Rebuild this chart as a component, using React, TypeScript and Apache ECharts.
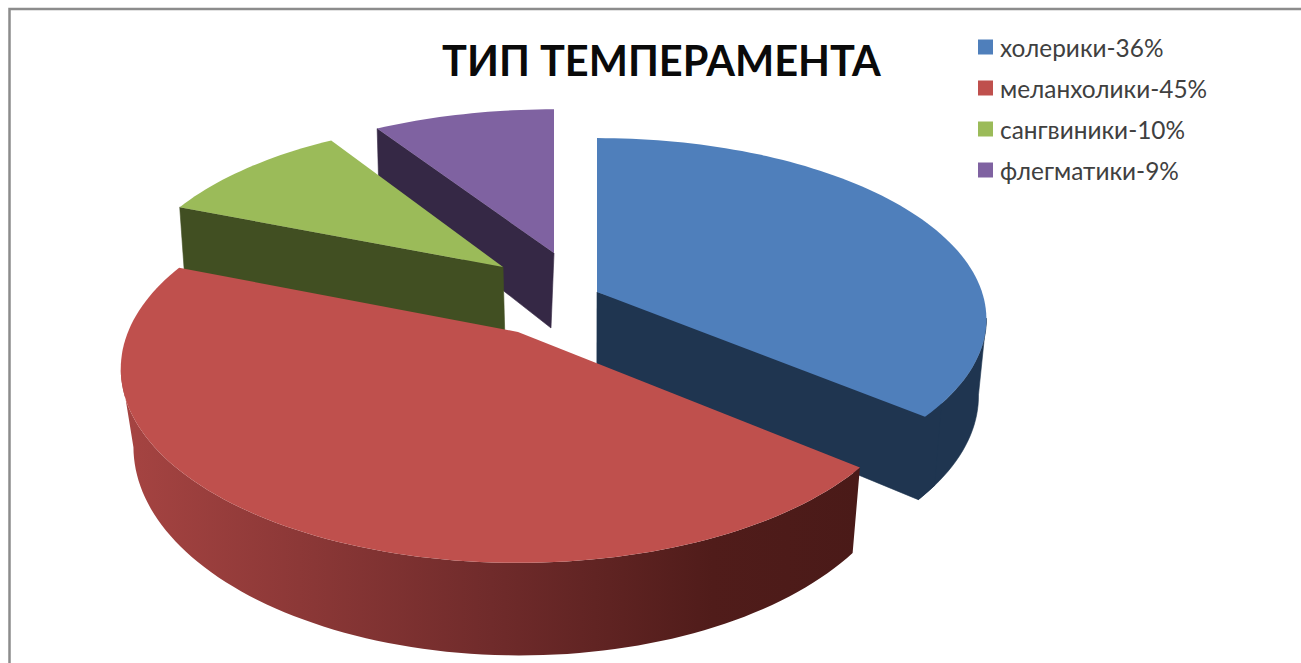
import React, { useEffect, useRef } from "react";
import * as echarts from "echarts";

const titleText = "ТИП ТЕМПЕРАМЕНТА";
const categories = ["холерики-36%", "меланхолики-45%", "сангвиники-10%", "флегматики-9%"];
const values = [36, 45, 10, 9];
const topColors = ["#4f7fbb", "#bf504d", "#9bbb59", "#7f62a1"];
const wallColors = ["#1f3550", "#702b2b", "#414f22", "#352845"];
// Exploded-slice apex on screen and per-slice projection
const apexX = [597, 518, 503, 554];
const apexY = [292, 332, 267, 253];
const radiusX = [385, 390, 372, 383];
const radiusY = [177, 187, 174, 171];
const perspective = [0.15, 0.19, 0.19, 0.19];
const vanishX = [590, 590, 720, 443];
const taper = [0.02, 0.027, 0.0092, 0.027];
const drawOrder = [4, 5, 3, 2];
const DEPTH = 75;

const total = values.reduce((a, b) => a + b, 0);

type P = { x: number; y: number; s: number };

function project(i: number, deg: number): P {
  const t = (deg * Math.PI) / 180;
  const u = Math.sin(t);
  const v = -Math.cos(t);
  const s = 1 / (1 - perspective[i] * v);
  return { x: apexX[i] + radiusX[i] * u * s, y: apexY[i] + radiusY[i] * v * s, s };
}
function lower(i: number, p: P) {
  return [p.x - taper[i] * (p.x - vanishX[i]), p.y + DEPTH * p.s];
}

function renderSlice(i: number) {
  return (_params: any, api: any) => {
    const val = api.value(0);
    const before = values.slice(0, i).reduce((a, b) => a + b, 0);
    const a0 = (before / total) * 360;
    const a1 = a0 + (val / total) * 360;
    const arc: P[] = [];
    const steps = Math.max(8, Math.ceil((a1 - a0) / 1.5));
    for (let k = 0; k <= steps; k++) arc.push(project(i, a0 + ((a1 - a0) * k) / steps));
    const top = arc.map((p) => [p.x, p.y]);
    const bottom = arc.map((p) => lower(i, p));
    const apex = [apexX[i], apexY[i]];
    const apexB = lower(i, { x: apexX[i], y: apexY[i], s: 1 });
    const wallFill =
      i === 1
        ? new echarts.graphic.LinearGradient(
            122, 0, 860, 0,
            [
              { offset: 0, color: "#a64442" },
              { offset: 0.5, color: wallColors[1] },
              { offset: 0.8, color: "#501c1a" },
              { offset: 1, color: "#4a1a18" },
            ],
            true
          )
        : wallColors[i];
    const poly = (points: number[][], fill: any, stroke: any = null) => ({
      type: "polygon",
      shape: { points },
      style: { fill, stroke, lineWidth: stroke ? 0.6 : 0 },
      silent: true,
    });
    const seam = i === 1 ? null : wallColors[i];
    const children: any[] = [];
    // Outer wall: only the part in front of the silhouette point
    if (i === 0 || i === 1) {
      const xs = top.map((p) => p[0]);
      const edge = i === 0 ? xs.indexOf(Math.max(...xs)) : xs.indexOf(Math.min(...xs));
      const from = i === 0 ? edge : 0;
      const to = i === 0 ? top.length : edge + 1;
      children.push(poly([...top.slice(from, to), ...bottom.slice(from, to).reverse()], wallFill, seam));
    }
    // Cut faces: only the ones that look toward the viewer
    if (i === 0) {
      const end = top.length - 1;
      children.push(poly([apex, top[end - 3], bottom[end - 3], bottom[end], apexB], wallColors[i], seam));
    }
    if (i === 2 || i === 3) {
      children.push(poly([apex, top[0], bottom[0], apexB], wallColors[i], seam));
    }
    children.push(poly([apex, ...top], topColors[i]));
    return { type: "group", children };
  };
}

export default function App() {
  const ref = useRef<HTMLDivElement>(null);
  useEffect(() => {
    document.body.style.margin = "0";
    const chart = echarts.init(ref.current!, undefined, { renderer: "svg" });
    chart.setOption({
      animation: false,
      backgroundColor: "#ffffff",
      title: {
        text: titleText,
        left: 442,
        top: 39,
        padding: 0,
        textStyle: { fontFamily: "Lato, 'Noto Sans', sans-serif", fontWeight: "bold", fontSize: 41.5, color: "#0a0a0a" },
      },
      legend: {
        orient: "vertical",
        left: 978,
        top: 35,
        padding: 0,
        icon: "rect",
        itemWidth: 15,
        itemHeight: 15,
        itemGap: 17,
        data: categories,
        selectedMode: false,
        textStyle: { fontFamily: "Lato, 'Noto Sans', sans-serif", fontSize: 24.4, color: "#404040", padding: [0, 0, 0, 2] },
      },
      graphic: [
        {
          type: "polyline",
          shape: { points: [[9.5, 663], [9.5, 9], [1301, 9]] },
          style: { stroke: "#8c8c8c", lineWidth: 2.5, fill: null },
          silent: true,
        },
      ],
      series: categories.map((name, i) => ({
        type: "custom",
        name,
        coordinateSystem: "none",
        z: drawOrder[i],
        itemStyle: { color: topColors[i] },
        data: [[values[i]]],
        renderItem: renderSlice(i),
        silent: true,
      })),
    });
    return () => chart.dispose();
  }, []);
  return <div ref={ref} style={{ position: "absolute", left: 0, top: 0, width: 1301, height: 663 }} />;
}
